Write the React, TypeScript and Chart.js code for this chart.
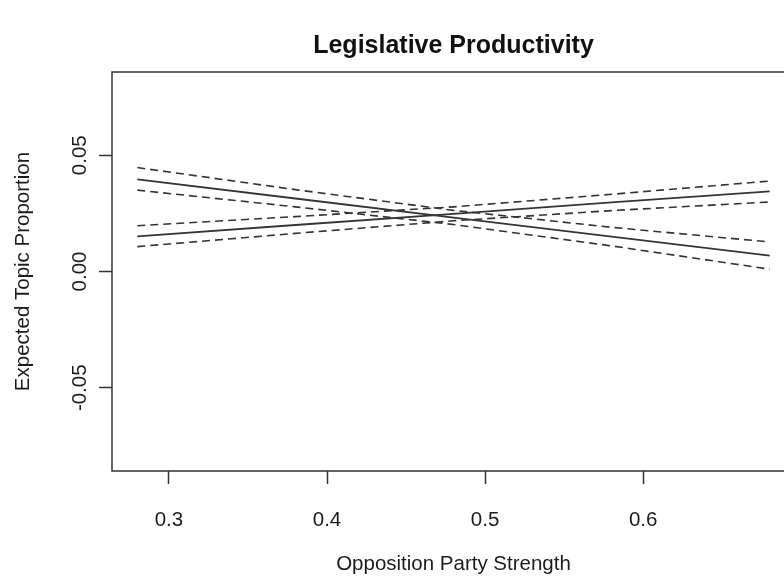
import React, { useEffect, useRef } from "react";
import { Chart, registerables } from "chart.js";

Chart.register(...registerables);

const TITLE = "Legislative Productivity";
const X_TITLE = "Opposition Party Strength";
const Y_TITLE = "Expected Topic Proportion";

// Opposition party strength values where the estimates were read
const xValues = [0.28, 0.38, 0.48, 0.58, 0.68];

// Rising estimate with its confidence band
const risingUpper = [0.0197, 0.0236, 0.0278, 0.0332, 0.0389];
const risingMean = [0.0151, 0.02, 0.0248, 0.0297, 0.0345];
const risingLower = [0.0107, 0.0164, 0.0218, 0.0262, 0.0299];

// Falling estimate with its confidence band
const fallingUpper = [0.0447, 0.0352, 0.0263, 0.019, 0.0127];
const fallingMean = [0.0396, 0.0314, 0.0232, 0.015, 0.0068];
const fallingLower = [0.035, 0.0278, 0.0202, 0.011, 0.001];

const xTicks = [0.3, 0.4, 0.5, 0.6];
const xTickLabels = ["0.3", "0.4", "0.5", "0.6"];
const yTicks = [-0.05, 0, 0.05];
const yTickLabels = ["-0.05", "0.00", "0.05"];

const X_MIN = 0.264;
const X_MAX = 0.696;
const Y_MIN = -0.0858;
const Y_MAX = 0.0858;

const FONT = "'Liberation Sans', Arial, sans-serif";
const INK = "#1c1c1c";
const LABEL_SIZE = 20.5;

function toPoints(values: number[]) {
  return values.map((v, i) => ({ x: xValues[i], y: v }));
}

export default function App() {
  const ref = useRef<HTMLCanvasElement | null>(null);

  useEffect(() => {
    if (!ref.current) return;
    const solid = (vals: number[]) => ({
      data: toPoints(vals),
      borderColor: "#353535",
      borderWidth: 1.8,
      pointRadius: 0,
      showLine: true,
      fill: false,
      tension: 0,
    });
    const dashed = (vals: number[]) => ({
      data: toPoints(vals),
      borderColor: "#333",
      borderWidth: 1.6,
      borderDash: [8, 5],
      pointRadius: 0,
      showLine: true,
      fill: false,
      tension: 0,
    });

    const framePlugin = {
      id: "frame",
      afterDraw(chart: any) {
        const { ctx, chartArea, scales } = chart;
        ctx.save();
        ctx.strokeStyle = "#333";
        ctx.lineWidth = 1.5;
        ctx.strokeRect(
          chartArea.left,
          chartArea.top,
          chartArea.right - chartArea.left,
          chartArea.bottom - chartArea.top
        );
        // main title
        ctx.fillStyle = "#111";
        ctx.font = `bold 25px ${FONT}`;
        ctx.textAlign = "center";
        ctx.textBaseline = "middle";
        ctx.fillText(TITLE, (chartArea.left + chartArea.right) / 2, 46);
        // rotated y tick labels
        ctx.font = `${LABEL_SIZE}px ${FONT}`;
        ctx.fillStyle = INK;
        yTicks.forEach((v, i) => {
          const y = scales.y.getPixelForValue(v);
          ctx.save();
          ctx.translate(80, y);
          ctx.rotate(-Math.PI / 2);
          ctx.textAlign = "center";
          ctx.textBaseline = "middle";
          ctx.fillText(yTickLabels[i], 0, 0);
          ctx.restore();
        });
        ctx.restore();
      },
    };

    const chart = new Chart(ref.current, {
      type: "scatter",
      data: {
        datasets: [
          dashed(risingUpper),
          solid(risingMean),
          dashed(risingLower),
          dashed(fallingUpper),
          solid(fallingMean),
          dashed(fallingLower),
        ] as any,
      },
      options: {
        animation: false,
        responsive: false,
        devicePixelRatio: 1,
        layout: { padding: { top: 72, right: 15, left: 0, bottom: 0 } },
        plugins: {
          legend: { display: false },
          tooltip: { enabled: false },
          title: { display: false },
        },
        scales: {
          x: {
            type: "linear",
            min: X_MIN,
            max: X_MAX,
            afterBuildTicks: (scale: any) => {
              scale.ticks = xTicks.map((v) => ({ value: v }));
            },
            afterFit: (scale: any) => {
              scale.height = 106;
            },
            ticks: {
              font: { family: FONT, size: LABEL_SIZE },
              color: INK,
              padding: 24,
              maxRotation: 0,
              minRotation: 0,
              callback: (v: any) => {
                const i = xTicks.findIndex((t) => Math.abs(t - Number(v)) < 1e-9);
                return i >= 0 ? xTickLabels[i] : "";
              },
            },
            grid: {
              display: true,
              drawOnChartArea: false,
              drawTicks: true,
              tickLength: 13,
              tickColor: "#333",
              tickWidth: 1.5,
            },
            border: { display: false },
            title: {
              display: true,
              text: X_TITLE,
              font: { family: FONT, size: LABEL_SIZE },
              color: INK,
              padding: { top: 0, bottom: 0 },
            },
          },
          y: {
            type: "linear",
            min: Y_MIN,
            max: Y_MAX,
            afterBuildTicks: (scale: any) => {
              scale.ticks = yTicks.map((v) => ({ value: v }));
            },
            afterFit: (scale: any) => {
              scale.width = 112;
            },
            ticks: { display: false },
            grid: {
              display: true,
              drawOnChartArea: false,
              drawTicks: true,
              tickLength: 13,
              tickColor: "#333",
              tickWidth: 1.5,
            },
            border: { display: false },
            title: {
              display: true,
              text: Y_TITLE,
              font: { family: FONT, size: LABEL_SIZE },
              color: INK,
              padding: { top: 11, bottom: 0 },
            },
          },
        },
      } as any,
      plugins: [framePlugin],
    });
    return () => chart.destroy();
  }, []);

  return (
    <div
      style={{
        position: "fixed",
        left: 0,
        top: 0,
        width: 784,
        height: 577,
        overflow: "hidden",
        background: "#fff",
      }}
    >
      <canvas ref={ref} width={810} height={577} style={{ width: 810, height: 577, display: "block" }} />
    </div>
  );
}
